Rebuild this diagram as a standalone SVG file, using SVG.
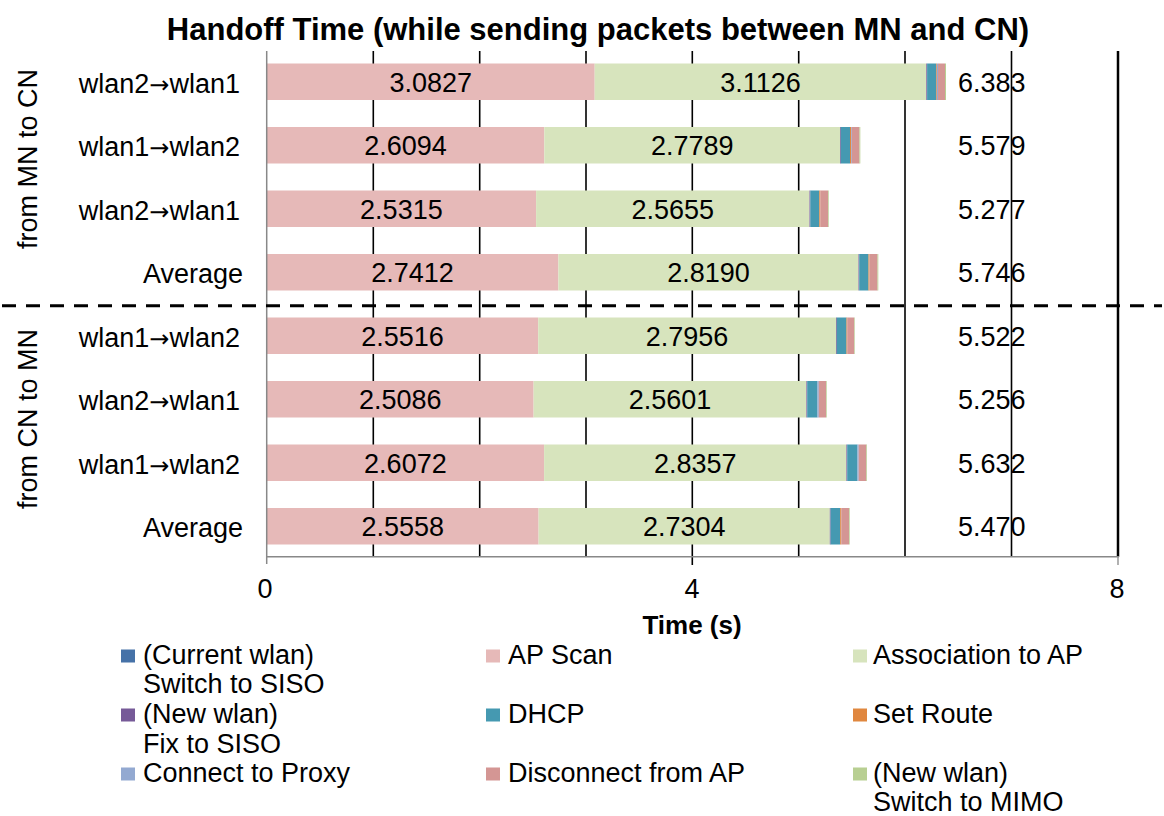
<svg xmlns="http://www.w3.org/2000/svg" width="1164" height="816" viewBox="0 0 1164 816">
<style>
text{font-family:"Liberation Sans",Arial,sans-serif;fill:#000}
.t{font-size:27px}
.v{font-size:27px;text-anchor:middle}
.r{font-size:27px;text-anchor:end}
.arr{font-family:"DejaVu Sans",sans-serif;font-size:24px}
.title{font-size:31px;font-weight:bold;text-anchor:middle}
.ax{font-size:26px;font-weight:bold;text-anchor:middle}
.grid{stroke:#000;stroke-width:1.6}
.ap{fill:#E6B9B8}.as{fill:#D7E4BD}.dh{fill:#4599B1}.pu{fill:#765A98}.cu{fill:#4672A8}
.or{fill:#E0873F}.lb{fill:#93A9D1}.ro{fill:#D49694}.mi{fill:#B8CF92}
</style>
<rect width="1164" height="816" fill="#fff"/>
<text class="title" x="598" y="40">Handoff Time (while sending packets between MN and CN)</text>
<g id="grid">
<line class="grid" x1="373.3" y1="51" x2="373.3" y2="556.7"/>
<line class="grid" x1="479.7" y1="51" x2="479.7" y2="556.7"/>
<line class="grid" x1="586" y1="51" x2="586" y2="556.7"/>
<line class="grid" x1="692.3" y1="51" x2="692.3" y2="565"/>
<line class="grid" x1="798.7" y1="51" x2="798.7" y2="556.7"/>
<line class="grid" x1="905" y1="51" x2="905" y2="556.7"/>
<line class="grid" x1="1011.5" y1="51" x2="1011.5" y2="556.7"/>
<line stroke="#000" stroke-width="2.5" x1="1118" y1="51" x2="1118" y2="556.7"/>
<line stroke="#888" stroke-width="1.3" x1="1118" y1="556.7" x2="1118" y2="565"/>
<line stroke="#888" stroke-width="1.5" x1="266.7" y1="556.7" x2="266.7" y2="564"/>
</g>
<g id="bars">
<g id="row1">
<rect class="ap" x="266.7" y="63.5" width="328" height="36.5"/>
<rect class="as" x="594.7" y="63.5" width="331.6" height="36.5"/>
<rect class="pu" x="926.3" y="63.5" width="0.8" height="36.5"/>
<rect class="dh" x="927.1" y="63.5" width="8.9" height="36.5"/>
<rect class="or" x="936" y="63.5" width="0.8" height="36.5"/>
<rect class="lb" x="936.8" y="63.5" width="1.2" height="36.5"/>
<rect class="ro" x="938" y="63.5" width="7" height="36.5"/>
<rect class="mi" x="945" y="63.5" width="1" height="36.5"/>
</g>
<g id="row2">
<rect class="ap" x="266.7" y="127" width="277.6" height="36.5"/>
<rect class="as" x="544.3" y="127" width="295.7" height="36.5"/>
<rect class="pu" x="840" y="127" width="0.8" height="36.5"/>
<rect class="dh" x="840.8" y="127" width="9.2" height="36.5"/>
<rect class="or" x="850" y="127" width="1" height="36.5"/>
<rect class="lb" x="851" y="127" width="0.8" height="36.5"/>
<rect class="ro" x="851.8" y="127" width="7.7" height="36.5"/>
<rect class="mi" x="859.5" y="127" width="0.8" height="36.5"/>
</g>
<g id="row3">
<rect class="ap" x="266.7" y="190.5" width="269.4" height="36.5"/>
<rect class="as" x="536.1" y="190.5" width="273.4" height="36.5"/>
<rect class="pu" x="809.5" y="190.5" width="0.8" height="36.5"/>
<rect class="dh" x="810.3" y="190.5" width="9" height="36.5"/>
<rect class="or" x="819.3" y="190.5" width="1" height="36.5"/>
<rect class="ro" x="820.3" y="190.5" width="7.7" height="36.5"/>
<rect class="mi" x="828" y="190.5" width="0.7" height="36.5"/>
</g>
<g id="row4">
<rect class="ap" x="266.7" y="254" width="291.7" height="36.5"/>
<rect class="as" x="558.4" y="254" width="300.1" height="36.5"/>
<rect class="pu" x="858.5" y="254" width="0.7" height="36.5"/>
<rect class="dh" x="859.2" y="254" width="9.3" height="36.5"/>
<rect class="or" x="868.5" y="254" width="1" height="36.5"/>
<rect class="ro" x="869.5" y="254" width="8" height="36.5"/>
<rect class="mi" x="877.5" y="254" width="0.8" height="36.5"/>
</g>
<g id="row5">
<rect class="ap" x="266.7" y="317.5" width="271.5" height="36.5"/>
<rect class="as" x="538.2" y="317.5" width="297.8" height="36.5"/>
<rect class="pu" x="836" y="317.5" width="0.8" height="36.5"/>
<rect class="dh" x="836.8" y="317.5" width="9.7" height="36.5"/>
<rect class="or" x="846.5" y="317.5" width="0.7" height="36.5"/>
<rect class="ro" x="847.2" y="317.5" width="7" height="36.5"/>
<rect class="mi" x="854.2" y="317.5" width="0.6" height="36.5"/>
</g>
<g id="row6">
<rect class="ap" x="266.7" y="381" width="266.9" height="36.5"/>
<rect class="as" x="533.6" y="381" width="272.8" height="36.5"/>
<rect class="pu" x="806.4" y="381" width="0.8" height="36.5"/>
<rect class="dh" x="807.2" y="381" width="10.3" height="36.5"/>
<rect class="lb" x="817.5" y="381" width="1.3" height="36.5"/>
<rect class="ro" x="818.8" y="381" width="7.2" height="36.5"/>
<rect class="mi" x="826" y="381" width="0.7" height="36.5"/>
</g>
<g id="row7">
<rect class="ap" x="266.7" y="444.5" width="277.4" height="36.5"/>
<rect class="as" x="544.1" y="444.5" width="302.3" height="36.5"/>
<rect class="pu" x="846.4" y="444.5" width="0.8" height="36.5"/>
<rect class="dh" x="847.2" y="444.5" width="10.3" height="36.5"/>
<rect class="lb" x="857.5" y="444.5" width="1.2" height="36.5"/>
<rect class="ro" x="858.7" y="444.5" width="7.6" height="36.5"/>
<rect class="mi" x="866.3" y="444.5" width="0.7" height="36.5"/>
</g>
<g id="row8">
<rect class="ap" x="266.7" y="508" width="271.9" height="36.5"/>
<rect class="as" x="538.6" y="508" width="291.2" height="36.5"/>
<rect class="pu" x="829.8" y="508" width="0.8" height="36.5"/>
<rect class="dh" x="830.6" y="508" width="9.6" height="36.5"/>
<rect class="or" x="840.2" y="508" width="1.1" height="36.5"/>
<rect class="ro" x="841.3" y="508" width="7.7" height="36.5"/>
<rect class="mi" x="849" y="508" width="0.7" height="36.5"/>
</g>
</g>
<g id="axes">
<line stroke="#888" stroke-width="1.5" x1="266.7" y1="51" x2="266.7" y2="556.7"/>
<line stroke="#888" stroke-width="1.5" x1="266" y1="556.7" x2="1119" y2="556.7"/>
</g>
<g id="values">
<text class="v" x="430.7" y="91.5">3.0827</text>
<text class="v" x="760.5" y="91.5">3.1126</text>
<text class="t" x="958" y="91.5">6.383</text>
<text class="v" x="405.5" y="155">2.6094</text>
<text class="v" x="692.2" y="155">2.7789</text>
<text class="t" x="958" y="155">5.579</text>
<text class="v" x="401.4" y="218.5">2.5315</text>
<text class="v" x="672.8" y="218.5">2.5655</text>
<text class="t" x="958" y="218.5">5.277</text>
<text class="v" x="412.5" y="282">2.7412</text>
<text class="v" x="708.5" y="282">2.8190</text>
<text class="t" x="958" y="282">5.746</text>
<text class="v" x="402.5" y="345.5">2.5516</text>
<text class="v" x="687.1" y="345.5">2.7956</text>
<text class="t" x="958" y="345.5">5.522</text>
<text class="v" x="400.2" y="409">2.5086</text>
<text class="v" x="670" y="409">2.5601</text>
<text class="t" x="958" y="409">5.256</text>
<text class="v" x="405.4" y="472.5">2.6072</text>
<text class="v" x="695.3" y="472.5">2.8357</text>
<text class="t" x="958" y="472.5">5.632</text>
<text class="v" x="402.7" y="536">2.5558</text>
<text class="v" x="684.2" y="536">2.7304</text>
<text class="t" x="958" y="536">5.470</text>
</g>
<g id="row-labels">
<text class="r" x="240" y="92.5">wlan2<tspan class="arr">→</tspan>wlan1</text>
<text class="r" x="240" y="156">wlan1<tspan class="arr">→</tspan>wlan2</text>
<text class="r" x="240" y="219.5">wlan2<tspan class="arr">→</tspan>wlan1</text>
<text class="r" x="243" y="283">Average</text>
<text class="r" x="240" y="346.5">wlan1<tspan class="arr">→</tspan>wlan2</text>
<text class="r" x="240" y="410">wlan2<tspan class="arr">→</tspan>wlan1</text>
<text class="r" x="240" y="473.5">wlan1<tspan class="arr">→</tspan>wlan2</text>
<text class="r" x="243" y="537">Average</text>
<text class="v" transform="translate(37 159) rotate(-90)">from MN to CN</text>
<text class="v" transform="translate(37 419) rotate(-90)">from CN to MN</text>
</g>
<line id="divider" x1="2" y1="305.7" x2="1162" y2="305.7" stroke="#000" stroke-width="3" stroke-dasharray="14 10"/>
<g id="x-axis-labels">
<text class="v" x="265" y="598">0</text>
<text class="v" x="692" y="598">4</text>
<text class="v" x="1117" y="598">8</text>
<text class="ax" x="692" y="634">Time (s)</text>
</g>
<g id="legend">
<rect class="cu" x="121" y="649.5" width="14" height="13"/>
<text class="t" x="143" y="663.5">(Current wlan)</text>
<text class="t" x="143" y="693">Switch to SISO</text>
<rect class="pu" x="121" y="708.5" width="14" height="13"/>
<text class="t" x="143" y="722.5">(New wlan)</text>
<text class="t" x="143" y="752.5">Fix to SISO</text>
<rect class="lb" x="121" y="767.5" width="14" height="13"/>
<text class="t" x="143" y="781.5">Connect to Proxy</text>
<rect class="ap" x="486" y="649.5" width="14" height="13"/>
<text class="t" x="508" y="663.5">AP Scan</text>
<rect class="dh" x="486" y="708.5" width="14" height="13"/>
<text class="t" x="508" y="722.5">DHCP</text>
<rect class="ro" x="486" y="767.5" width="14" height="13"/>
<text class="t" x="508" y="781.5">Disconnect from AP</text>
<rect class="as" x="853" y="649.5" width="14" height="13"/>
<text class="t" x="873" y="663.5">Association to AP</text>
<rect class="or" x="853" y="708.5" width="14" height="13"/>
<text class="t" x="873" y="722.5">Set Route</text>
<rect class="mi" x="853" y="767.5" width="14" height="13"/>
<text class="t" x="873" y="781.5">(New wlan)</text>
<text class="t" x="873" y="811">Switch to MIMO</text>
</g>
</svg>
